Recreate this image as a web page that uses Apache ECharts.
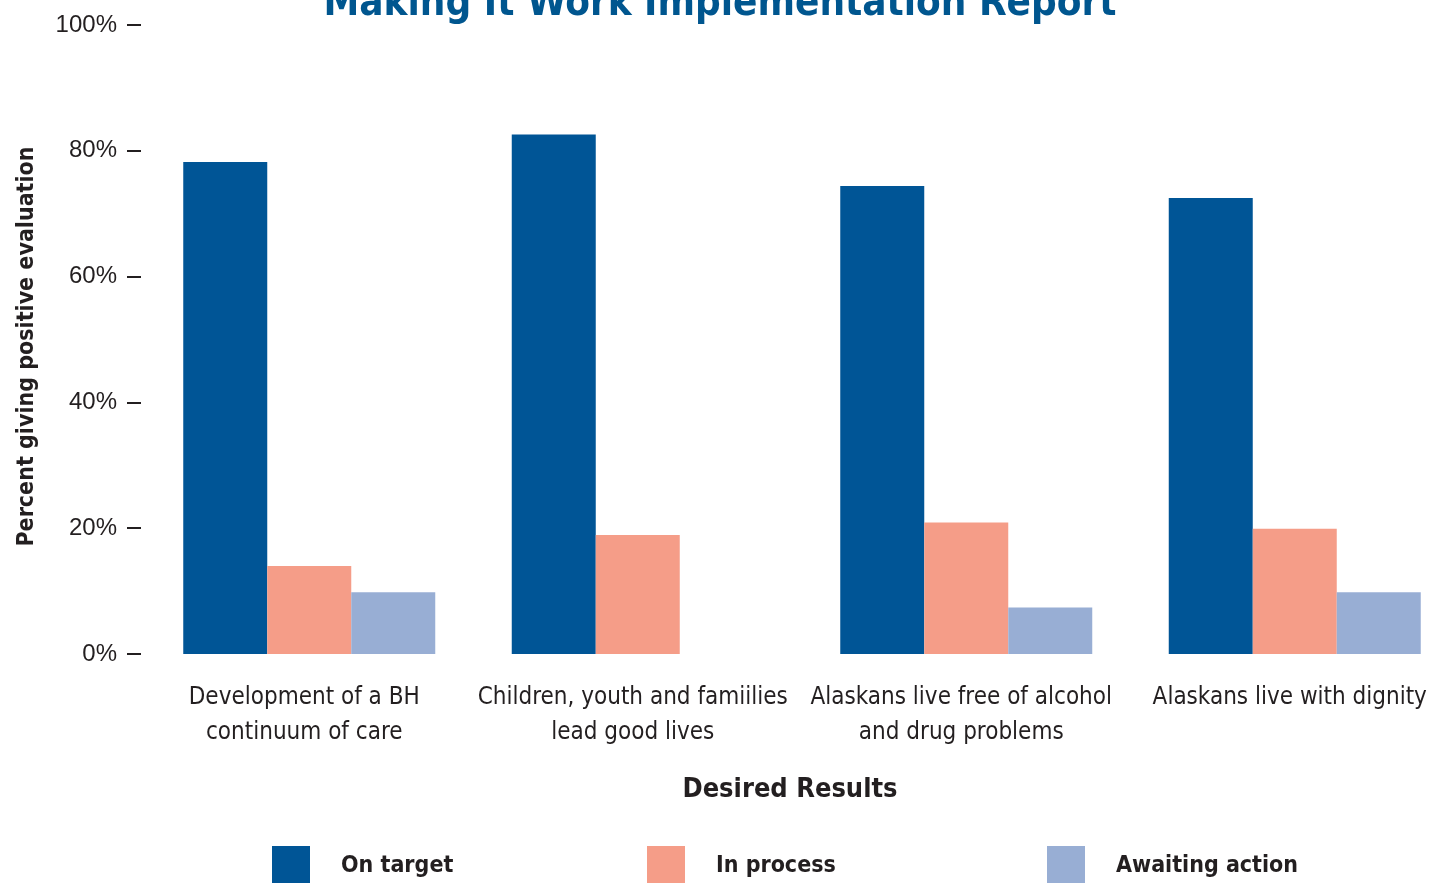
<!DOCTYPE html>
<html>
<head>
<meta charset="utf-8">
<script src="https://cdn.jsdelivr.net/npm/echarts@6/dist/echarts.min.js"></script>
<style>
  html, body { margin: 0; padding: 0; background: #fff; }
  #chart_main { width: 1440px; height: 883px; }
</style>
</head>
<body>
<div id="chart_main"></div>
<script>
// categories (x axis)
var categories = [
    'Development of a BH\ncontinuum of care',
    'Children, youth and famiilies\nlead good lives',
    'Alaskans live free of alcohol\nand drug problems',
    'Alaskans live with dignity'
];
var series_names = ['On target', 'In process', 'Awaiting action'];
// percent giving positive evaluation
var on_target = [78.2, 82.6, 74.4, 72.5];
var in_process = [14.0, 18.9, 20.9, 19.9];
var awaiting_action = [9.8, '-', 7.4, 9.8];
var y_ticks = [0, 20, 40, 60, 80, 100];

var color_theme = ['#005596', '#f59d88', '#98aed4'];
var narrow_font = '"Liberation Sans Narrow", "DejaVu Sans Condensed", "Liberation Sans", sans-serif';
var text_color = '#231f20';

var main_chart = echarts.init(document.getElementById('chart_main'));

var series_data = [on_target, in_process, awaiting_action];
var legend_left = [272, 647, 1047];

main_chart.setOption({
    animation: false,
    color: color_theme,
    title: {
        text: 'Making It Work Implementation Report',
        left: 'center',
        top: -15,
        padding: 0,
        textStyle: {
            color: '#00568f',
            fontFamily: narrow_font,
            fontWeight: 'bold',
            fontSize: 40
        }
    },
    legend: series_names.map((name, i) => ({
        data: [name],
        left: legend_left[i],
        top: 846,
        padding: 0,
        itemWidth: 38,
        itemHeight: 40,
        icon: 'rect',
        textStyle: {
            fontFamily: narrow_font,
            fontWeight: 'bold',
            fontSize: 23,
            color: text_color,
            padding: [4, 0, 0, 26]
        }
    })),
    grid: {
        left: 145,
        width: 1314,
        top: 25,
        bottom: 229,
        outerBoundsMode: 'none'
    },
    xAxis: {
        type: 'category',
        data: categories,
        name: 'Desired Results',
        nameLocation: 'middle',
        nameGap: 122,
        nameTextStyle: {
            fontFamily: narrow_font,
            fontWeight: 'bold',
            fontSize: 27,
            color: text_color,
            padding: [0, 24, 0, 0]
        },
        axisLine: { show: false },
        axisTick: { show: false },
        axisLabel: {
            margin: 26,
            interval: 0,
            fontFamily: narrow_font,
            fontSize: 24,
            lineHeight: 35,
            color: text_color,
            padding: [0, 10, 0, 0]
        }
    },
    yAxis: {
        type: 'value',
        min: 0,
        max: 100,
        interval: 20,
        offset: 4,
        name: 'Percent giving positive evaluation',
        nameLocation: 'middle',
        nameGap: 102,
        nameTextStyle: {
            fontFamily: narrow_font,
            fontWeight: 'bold',
            fontSize: 23,
            color: text_color,
            padding: [0, 14, 0, 0]
        },
        splitLine: { show: false },
        axisLine: { show: false },
        axisTick: {
            show: true,
            length: 14,
            lineStyle: { color: text_color, width: 2 }
        },
        axisLabel: {
            margin: 24,
            fontFamily: '"Liberation Sans", Arial, sans-serif',
            fontSize: 24,
            color: text_color,
            formatter: function (val) {
                return y_ticks.indexOf(val) >= 0 ? val + '%' : '';
            }
        }
    },
    series: series_names.map((name, i) => ({
        name: name,
        type: 'bar',
        barWidth: 84,
        barGap: '0%',
        data: series_data[i]
    }))
});
</script>
</body>
</html>
